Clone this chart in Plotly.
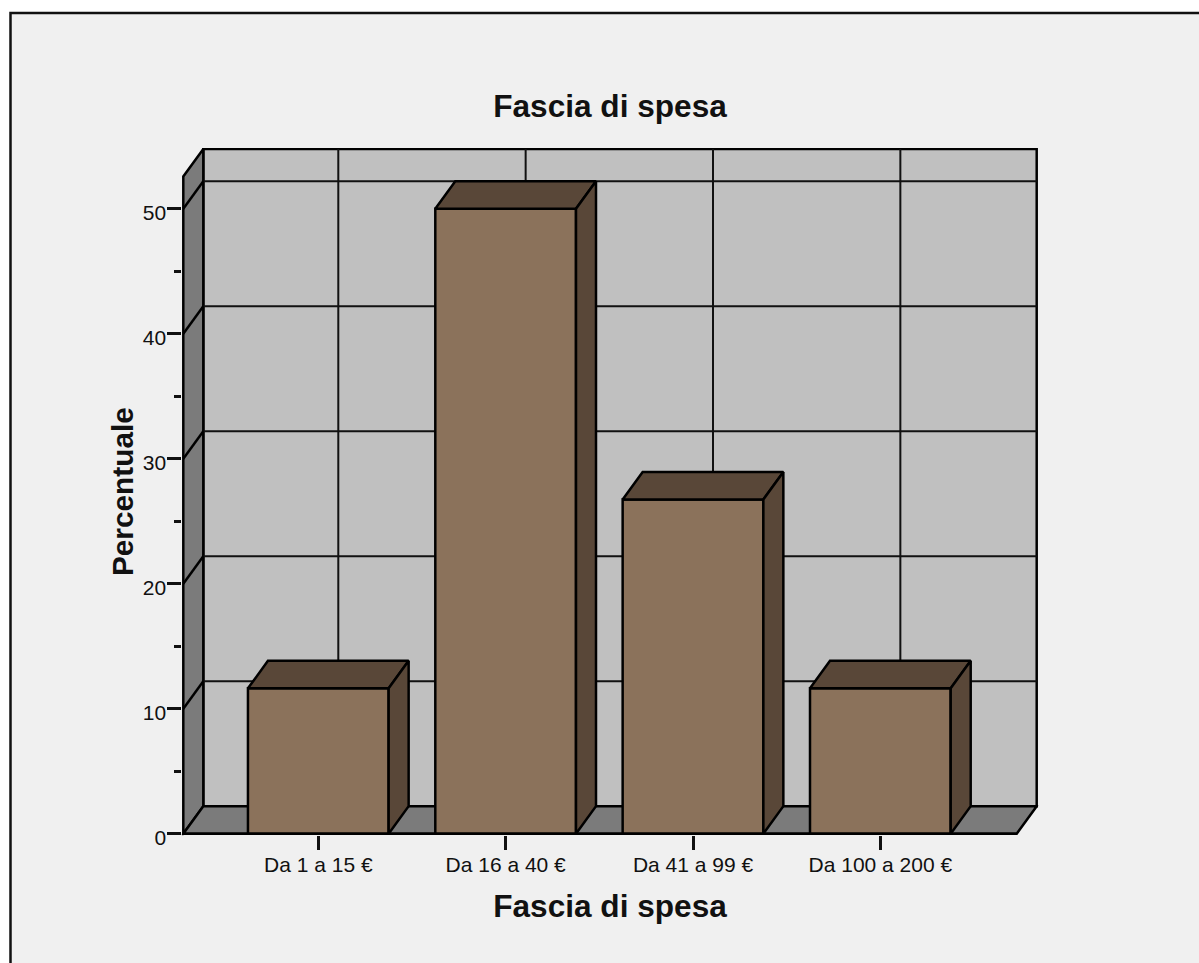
import plotly.graph_objects as go

# ---- data ----
categories = ["Da 1 a 15 €", "Da 16 a 40 €", "Da 41 a 99 €", "Da 100 a 200 €"]
percentuale = [11.63, 50.0, 26.74, 11.63]
major_ticks = [0, 10, 20, 30, 40, 50]
minor_ticks = [5, 15, 25, 35, 45]
title_text = "Fascia di spesa"
y_title = "Percentuale"

# ---- page geometry (pixels) ----
W, H = 1199, 963
PX_X0, PX_STEP = 318.3, 187.35      # pixel of category 0, pixels per category
PX_Y0, PX_UNIT = 833.7, 12.5        # pixel of value 0, pixels per percent
LEFT_PX, FRONT_RIGHT_PX = 183.3, 1016.7
DEPTH_X_PX, DEPTH_Y_PX = 20.0, 27.5
TOP_FRONT_PX = 176.5
PAD = 1.5

ux = lambda px: (px - PX_X0) / PX_STEP
uy = lambda px: (PX_Y0 - px) / PX_UNIT
px = lambda v: v / W
py = lambda v: 1 - v / H

dx = DEPTH_X_PX / PX_STEP
dy = DEPTH_Y_PX / PX_UNIT
bar_w = 140.7 / PX_STEP
x_left = ux(LEFT_PX)
x_right = ux(FRONT_RIGHT_PX)
y_top = uy(TOP_FRONT_PX)

FRONT, DARK = "#8B725B", "#594738"
WALL, SIDE, PANEL = "#C0C0C0", "#7B7B7B", "#F0F0F0"
FONT = "Liberation Sans, Arial, sans-serif"
INK = "#111111"
LW = 2.5
GW = 2


def poly(points):
    return "M" + " L".join(f"{a},{b}" for a, b in points) + " Z"


shapes = [
    dict(type="rect", xref="paper", yref="paper", x0=px(10.5), x1=1.02, y0=-0.02, y1=py(13),
         fillcolor=PANEL, line=dict(color=INK, width=2.5), layer="below"),
    # back wall
    dict(type="path", layer="below", xref="x", yref="y", fillcolor=WALL, line=dict(color="black", width=LW),
         path=poly([(x_left + dx, dy), (x_right + dx, dy), (x_right + dx, y_top + dy), (x_left + dx, y_top + dy)])),
    # left wall
    dict(type="path", layer="below", xref="x", yref="y", fillcolor=SIDE, line=dict(color="black", width=LW),
         path=poly([(x_left, 0), (x_left + dx, dy), (x_left + dx, y_top + dy), (x_left, y_top)])),
    # floor
    dict(type="path", layer="below", xref="x", yref="y", fillcolor=SIDE, line=dict(color="black", width=LW),
         path=poly([(x_left, 0), (x_right, 0), (x_right + dx, dy), (x_left + dx, dy)])),
]
for v in major_ticks[1:]:
    shapes.append(dict(type="line", layer="below", xref="x", yref="y", x0=x_left + dx, x1=x_right + dx,
                       y0=v + dy, y1=v + dy, line=dict(color=INK, width=GW)))
    shapes.append(dict(type="line", layer="below", xref="x", yref="y", x0=x_left, x1=x_left + dx,
                       y0=v, y1=v + dy, line=dict(color="black", width=LW)))
for i in range(len(categories)):
    shapes.append(dict(type="line", layer="below", xref="x", yref="y", x0=i + dx, x1=i + dx,
                       y0=dy, y1=y_top + dy, line=dict(color=INK, width=GW)))

fig = go.Figure()
positions = list(range(len(categories)))
fig.add_trace(go.Bar(x=positions, y=percentuale, width=bar_w, marker=dict(color=FRONT, line=dict(color="black", width=LW)),
                     showlegend=False, hoverinfo="skip"))
for i, v in zip(positions, percentuale):
    a, b = i - bar_w / 2, i + bar_w / 2
    top = [a, b, b + dx, a + dx, a]
    top_y = [v, v, v + dy, v + dy, v]
    side = [b, b + dx, b + dx, b, b]
    side_y = [0, dy, v + dy, v, 0]
    for xs, ys in ((top, top_y), (side, side_y)):
        fig.add_trace(go.Scatter(x=xs, y=ys, mode="lines", fill="toself", fillcolor=DARK,
                                 line=dict(color="black", width=LW), showlegend=False, hoverinfo="skip"))
# front base line of the chart
fig.add_trace(go.Scatter(x=[x_left, x_right], y=[0, 0], mode="lines", line=dict(color="black", width=LW),
                         showlegend=False, hoverinfo="skip"))

fig.update_layout(
    width=W, height=H, autosize=False, margin=dict(l=0, r=0, t=0, b=0),
    paper_bgcolor="white", plot_bgcolor="rgba(0,0,0,0)", shapes=shapes, showlegend=False,
    font=dict(family=FONT, color=INK),
    title=dict(text=f"<b>{title_text}</b>", x=px(610), xref="paper", xanchor="center",
               y=py(106), yref="paper", yanchor="middle", font=dict(size=31.6, family=FONT, color=INK)),
    xaxis=dict(domain=[px(LEFT_PX - PAD), px(1036.7 + PAD)], range=[ux(LEFT_PX - PAD), ux(1036.7 + PAD)],
               automargin=False,
               tickmode="array", tickvals=positions, ticktext=categories, ticks="outside", ticklen=13.5, tickwidth=2.5,
               tickcolor=INK, tickfont=dict(size=21, family=FONT, color=INK), showgrid=False, zeroline=False,
               showline=False, ticklabelstandoff=-3,
               title=dict(text=f"<b>{title_text}</b>", font=dict(size=31.6, family=FONT, color=INK), standoff=19)),
    yaxis=dict(domain=[py(PX_Y0 + PAD), py(149.5 - PAD)], range=[uy(PX_Y0 + PAD), uy(149.5 - PAD)],
               automargin=False,
               tickmode="array", tickvals=major_ticks, ticks="outside", ticklen=13.5, tickwidth=2.5,
               tickcolor=INK, tickfont=dict(size=21, family=FONT, color=INK), showgrid=False, zeroline=False,
               showline=False, ticklabelstandoff=-3, ticklabelshift=4,
               minor=dict(tickmode="array", tickvals=minor_ticks, ticks="outside", ticklen=6.5, tickwidth=2.5,
                          tickcolor=INK, showgrid=False),
               title=dict(text=f"<b>{y_title}</b>", font=dict(size=29.8, family=FONT, color=INK), standoff=0)),
)

fig.write_html("out.html", config={"displayModeBar": False},
               post_script="document.body.style.margin='0';document.body.style.overflow='hidden';")
